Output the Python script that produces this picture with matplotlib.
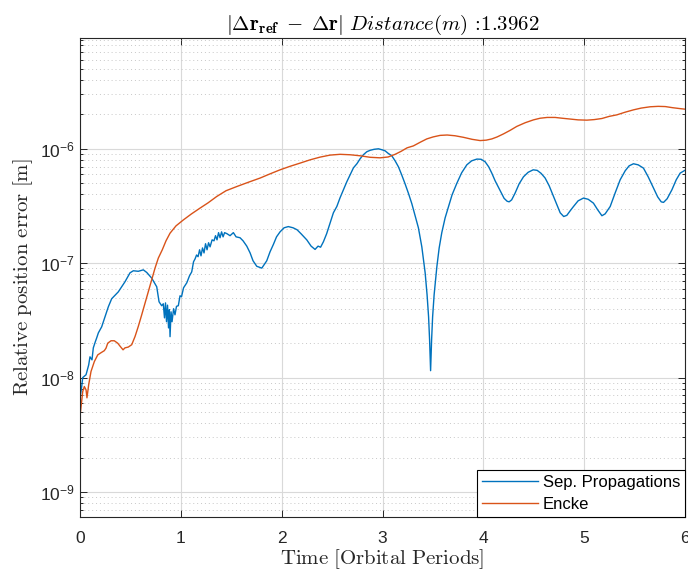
import matplotlib
matplotlib.use("Agg")
import matplotlib.pyplot as plt
from matplotlib.ticker import LogLocator, FixedLocator, NullFormatter

plt.rcParams['font.family'] = ['Liberation Sans', 'DejaVu Sans']
plt.rcParams['mathtext.fontset'] = 'cm'

# ---- data (time in orbital periods, error in m) ----
t_sep = [0.005, 0.015, 0.027, 0.060, 0.086, 0.099, 0.119, 0.132, 0.152, 0.166, 0.182, 0.215,
         0.248, 0.281, 0.314, 0.380, 0.446, 0.496, 0.529, 0.578, 0.628, 0.662, 0.711, 0.761,
         0.784, 0.810, 0.826, 0.838, 0.848, 0.858, 0.868, 0.878, 0.886, 0.893, 0.903, 0.913,
         0.928, 0.942, 0.957, 0.975, 0.992, 1.007, 1.027, 1.059, 1.086, 1.108, 1.126, 1.141,
         1.156, 1.171, 1.186, 1.200, 1.215, 1.230, 1.245, 1.260, 1.275, 1.290, 1.310, 1.329,
         1.344, 1.359, 1.374, 1.389, 1.404, 1.419, 1.434, 1.458, 1.488, 1.521, 1.548, 1.587,
         1.617, 1.654, 1.687, 1.716, 1.753, 1.803, 1.852, 1.885, 1.918, 1.949, 1.984, 2.024,
         2.066, 2.113, 2.153, 2.192, 2.249, 2.292, 2.331, 2.361, 2.386, 2.414, 2.446, 2.480,
         2.513, 2.547, 2.579, 2.612, 2.646, 2.679, 2.712, 2.746, 2.778, 2.810, 2.844, 2.877,
         2.917, 2.960, 2.996, 3.026, 3.056, 3.092, 3.125, 3.158, 3.190, 3.224, 3.259, 3.291,
         3.323, 3.356, 3.390, 3.423, 3.442, 3.457, 3.467, 3.477, 3.487, 3.497, 3.512, 3.539,
         3.562, 3.588, 3.621, 3.654, 3.690, 3.737, 3.785, 3.836, 3.884, 3.936, 3.978, 4.018,
         4.053, 4.084, 4.117, 4.147, 4.177, 4.206, 4.236, 4.256, 4.281, 4.315, 4.355, 4.398,
         4.444, 4.494, 4.534, 4.573, 4.613, 4.653, 4.696, 4.732, 4.762, 4.797, 4.828, 4.861,
         4.894, 4.940, 4.993, 5.040, 5.092, 5.134, 5.176, 5.208, 5.258, 5.308, 5.357, 5.407,
         5.446, 5.489, 5.536, 5.588, 5.635, 5.688, 5.729, 5.764, 5.787, 5.823, 5.870, 5.913,
         5.952, 6.000]
err_sep = [7.1e-9, 8.1e-9, 1.0e-8, 1.06e-8, 1.29e-8, 1.52e-8, 1.43e-8, 1.82e-8, 2.06e-8, 2.23e-8,
           2.46e-8, 2.78e-8, 3.40e-8, 4.16e-8, 4.89e-8, 5.62e-8, 6.88e-8, 8.24e-8, 8.59e-8, 8.5e-8,
           8.75e-8, 8.3e-8, 7.41e-8, 6.22e-8, 4.6e-8, 4.25e-8, 4.42e-8, 3.33e-8, 4.5e-8, 3.08e-8,
           4.3e-8, 2.72e-8, 3.92e-8, 2.28e-8, 3.76e-8, 3.08e-8, 4.0e-8, 3.54e-8, 4.2e-8, 4.25e-8,
           5.19e-8, 5.1e-8, 6.1e-8, 6.74e-8, 7.76e-8, 8.4e-8, 1.03e-7, 1.09e-7, 1.18e-7, 1.14e-7,
           1.31e-7, 1.16e-7, 1.36e-7, 1.23e-7, 1.48e-7, 1.31e-7, 1.51e-7, 1.39e-7, 1.6e-7, 1.57e-7,
           1.74e-7, 1.6e-7, 1.85e-7, 1.67e-7, 1.88e-7, 1.7e-7, 1.85e-7, 1.81e-7, 1.74e-7, 1.85e-7,
           1.7e-7, 1.67e-7, 1.57e-7, 1.41e-7, 1.23e-7, 1.05e-7, 9.4e-8, 9.06e-8, 1.05e-7, 1.26e-7,
           1.46e-7, 1.7e-7, 1.88e-7, 2.04e-7, 2.09e-7, 2.04e-7, 1.96e-7, 1.81e-7, 1.6e-7, 1.41e-7,
           1.32e-7, 1.41e-7, 1.38e-7, 1.54e-7, 1.81e-7, 2.25e-7, 2.76e-7, 3.13e-7, 3.73e-7, 4.38e-7,
           5.15e-7, 5.93e-7, 6.82e-7, 7.4e-7, 8.18e-7, 8.87e-7, 9.42e-7, 9.7e-7, 9.9e-7, 1.0e-6,
           9.8e-7, 9.6e-7, 9.13e-7, 8.69e-7, 7.85e-7, 6.96e-7, 5.93e-7, 4.94e-7, 4.04e-7, 3.31e-7,
           2.6e-7, 2.04e-7, 1.39e-7, 8.24e-8, 5.3e-8, 3.4e-8, 2.14e-8, 1.15e-8, 2.14e-8, 3.4e-8,
           5.3e-8, 9.31e-8, 1.36e-7, 1.85e-7, 2.49e-7, 3.11e-7, 3.96e-7, 4.99e-7, 6.17e-7, 7.24e-7,
           7.85e-7, 8.13e-7, 8.1e-7, 7.7e-7, 6.96e-7, 6.13e-7, 5.25e-7, 4.66e-7, 4.13e-7, 3.69e-7,
           3.48e-7, 3.44e-7, 3.58e-7, 4.1e-7, 4.94e-7, 5.69e-7, 6.23e-7, 6.55e-7, 6.48e-7, 6.1e-7,
           5.55e-7, 4.75e-7, 3.83e-7, 3.18e-7, 2.76e-7, 2.56e-7, 2.62e-7, 2.87e-7, 3.13e-7, 3.51e-7,
           3.71e-7, 3.62e-7, 3.35e-7, 2.93e-7, 2.6e-7, 2.7e-7, 3.13e-7, 4.13e-7, 5.36e-7, 6.43e-7,
           7.1e-7, 7.4e-7, 7.24e-7, 6.78e-7, 5.69e-7, 4.53e-7, 3.8e-7, 3.44e-7, 3.4e-7, 3.66e-7,
           4.38e-7, 5.36e-7, 6.13e-7, 6.49e-7]

t_encke = [0.005, 0.027, 0.043, 0.060, 0.069, 0.086, 0.109, 0.142, 0.176, 0.208, 0.241, 0.258,
           0.275, 0.308, 0.340, 0.374, 0.400, 0.427, 0.446, 0.479, 0.513, 0.546, 0.578, 0.612,
           0.645, 0.678, 0.711, 0.744, 0.777, 0.816, 0.853, 0.893, 0.952, 1.025, 1.106, 1.190,
           1.270, 1.356, 1.448, 1.555, 1.667, 1.786, 1.885, 1.984, 2.083, 2.183, 2.282, 2.381,
           2.480, 2.579, 2.679, 2.778, 2.877, 2.976, 3.056, 3.125, 3.185, 3.244, 3.306, 3.373,
           3.439, 3.502, 3.571, 3.641, 3.720, 3.803, 3.889, 3.968, 4.028, 4.084, 4.137, 4.200,
           4.266, 4.332, 4.415, 4.497, 4.563, 4.633, 4.712, 4.782, 4.861, 4.940, 5.027, 5.099,
           5.176, 5.248, 5.324, 5.407, 5.489, 5.566, 5.655, 5.734, 5.804, 5.873, 5.942, 6.000]
err_encke = [5.02e-9, 7.56e-9, 8.36e-9, 7.82e-9, 6.66e-9, 8.65e-9, 1.13e-8, 1.38e-8, 1.58e-8,
             1.65e-8, 1.72e-8, 1.81e-8, 2.0e-8, 2.1e-8, 2.1e-8, 2.0e-8, 1.87e-8, 1.75e-8, 1.82e-8,
             1.85e-8, 1.94e-8, 2.29e-8, 2.8e-8, 3.54e-8, 4.48e-8, 5.66e-8, 7.16e-8, 9.06e-8,
             1.11e-7, 1.31e-7, 1.57e-7, 1.83e-7, 2.12e-7, 2.39e-7, 2.7e-7, 3.03e-7, 3.37e-7,
             3.83e-7, 4.3e-7, 4.68e-7, 5.09e-7, 5.55e-7, 6.04e-7, 6.55e-7, 7.03e-7, 7.5e-7,
             8.01e-7, 8.46e-7, 8.81e-7, 8.95e-7, 8.87e-7, 8.69e-7, 8.43e-7, 8.34e-7, 8.48e-7,
             8.95e-7, 9.51e-7, 1.02e-6, 1.06e-6, 1.14e-6, 1.22e-6, 1.27e-6, 1.31e-6, 1.32e-6,
             1.3e-6, 1.26e-6, 1.21e-6, 1.18e-6, 1.19e-6, 1.22e-6, 1.27e-6, 1.35e-6, 1.45e-6,
             1.57e-6, 1.69e-6, 1.79e-6, 1.85e-6, 1.88e-6, 1.88e-6, 1.85e-6, 1.82e-6, 1.79e-6,
             1.78e-6, 1.8e-6, 1.84e-6, 1.92e-6, 1.98e-6, 2.09e-6, 2.19e-6, 2.27e-6, 2.33e-6,
             2.35e-6, 2.34e-6, 2.29e-6, 2.25e-6, 2.22e-6]

series_labels = ["Sep. Propagations", "Encke"]
x_ticks = [0, 1, 2, 3, 4, 5, 6]
title_text = r'$|\mathbf{\Delta r_{ref}}\;-\;\mathbf{\Delta r}|\ Distance(m)$ :1.3962'
xlabel_text = r'$\mathrm{Time\ [Orbital\ Periods]}$'
ylabel_text = r'$\mathrm{Relative\ position\ error\ [m]}$'

# ---- figure ----
fig = plt.figure(figsize=(6.88, 5.72), dpi=100)
ax = fig.add_axes([80/688, 1-517/572, 605/688, 479/572])

dark = (0.15, 0.15, 0.15)
ax.plot(t_sep, err_sep, color='#0072BD', lw=1.0, label=series_labels[0])
ax.plot(t_encke, err_encke, color='#D95319', lw=1.0, label=series_labels[1])

ax.set_yscale('log')
ax.set_xlim(0, 6)
ax.set_ylim(6.05e-10, 9.3e-6)
ax.xaxis.set_major_locator(FixedLocator(x_ticks))
ax.set_xticklabels([str(v) for v in x_ticks])
ax.yaxis.set_major_locator(LogLocator(base=10, numticks=20))
ax.yaxis.set_minor_locator(LogLocator(base=10, subs=range(2, 10), numticks=20))
ax.yaxis.set_minor_formatter(NullFormatter())

ax.grid(True, which='major', axis='both', color=(0.85, 0.85, 0.85), lw=0.8, ls='-')
ax.grid(True, which='minor', axis='y', color=(0.78, 0.78, 0.78), lw=0.7, ls=(0, (1, 3)))
ax.set_axisbelow(True)

ax.tick_params(which='both', direction='in', top=True, right=True, colors=dark,
               labelcolor=dark, labelsize=12.5, width=0.7)
ax.tick_params(which='major', length=5)
ax.tick_params(which='minor', length=2.5)
ax.tick_params(axis='x', pad=10)

for s in ax.spines.values():
    s.set_color(dark)
    s.set_linewidth(0.8)

ax.set_title(title_text, fontsize=15, color='k', pad=6, family=['cmr10', 'DejaVu Serif'])
ax.set_xlabel(xlabel_text, fontsize=15, color=dark, labelpad=1)
ax.set_ylabel(ylabel_text, fontsize=15, color=dark, labelpad=4)

leg = ax.legend(loc='lower right', borderaxespad=0, fancybox=False, edgecolor='k',
                framealpha=1, fontsize=12, handlelength=3.4, handletextpad=0.25,
                borderpad=0.3, labelspacing=0.45)
leg.get_frame().set_linewidth(0.8)

fig.savefig('out.png', dpi=100)
